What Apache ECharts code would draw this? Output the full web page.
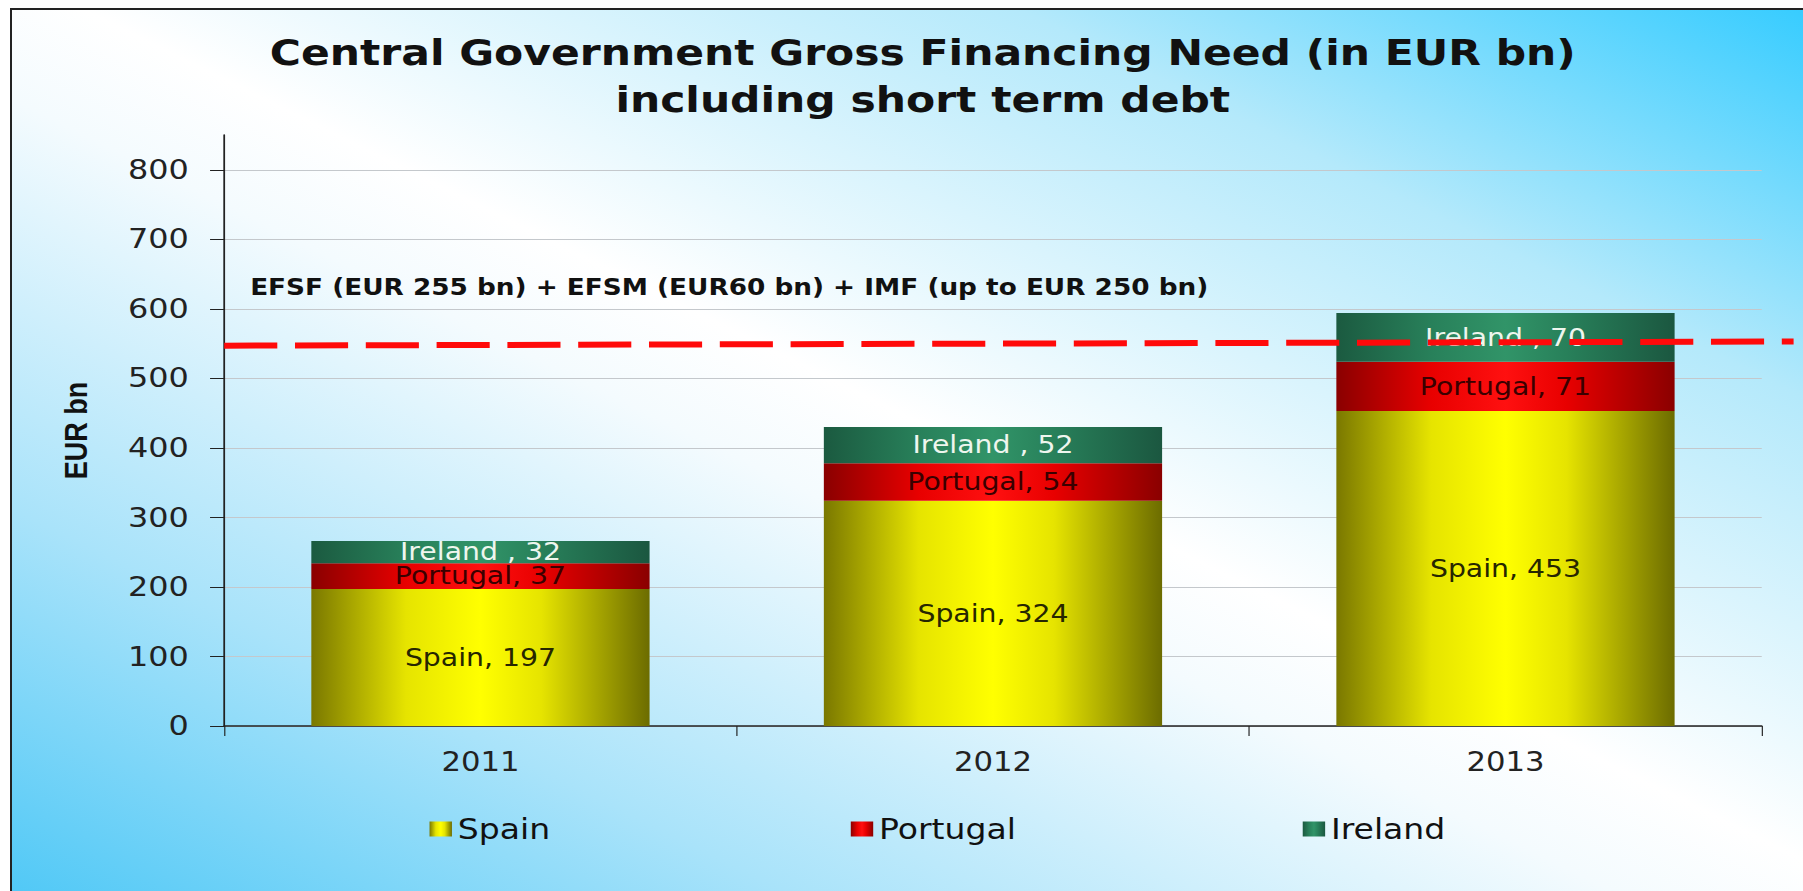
<!DOCTYPE html>
<html>
<head>
<meta charset="utf-8">
<title>Central Government Gross Financing Need</title>
<script src="https://cdn.jsdelivr.net/npm/echarts@6/dist/echarts.min.js"></script>
<style>
  html, body { margin: 0; padding: 0; width: 1803px; height: 891px; overflow: hidden; background: #fff; }
  #frame {
    position: absolute; left: 10px; top: 8px; width: 1800px; height: 890px;
    border-left: 2px solid #222; border-top: 2px solid #222;
    background: linear-gradient(to top right, #4fc8f6 0%, #a9e3fa 22%, #f4fbfe 45%, #ffffff 52%, #b4e9fb 78%, #36ccff 100%);
  }
  /* the original picture is stretched sideways, so the chart is drawn narrow and widened */
  #main { position: absolute; left: 0; top: 0; width: 1528px; height: 891px; transform: scaleX(1.18); transform-origin: 0 0; }
</style>
</head>
<body>
<div id="frame"></div>
<div id="main"></div>
<script>
  // data
  var years = ['2011', '2012', '2013'];
  var spain = [197, 324, 453];
  var portugal = [37, 54, 71];
  var ireland = [32, 52, 70];
  var facilityLine = [547, 553]; // EFSF + EFSM + IMF level, left end and right end

  var yMin = 0, yMax = 850, yStep = 100;

  function barGrad(edgeL, mid, centre, edgeR) {
    return new echarts.graphic.LinearGradient(0, 0, 1, 0, [
      { offset: 0, color: edgeL },
      { offset: 0.28, color: mid },
      { offset: 0.5, color: centre },
      { offset: 0.68, color: mid },
      { offset: 1, color: edgeR }
    ]);
  }

  var chart = echarts.init(document.getElementById('main'), null, { renderer: 'svg' });

  var labelFont = { fontFamily: 'DejaVu Sans', fontSize: 24, lineHeight: 22 };

  chart.setOption({
    backgroundColor: 'transparent',
    animation: false,
    title: [{
      text: 'Central Government Gross Financing Need (in EUR bn)\nincluding short term debt',
      left: 782, top: 29, padding: 0, textAlign: 'center',
      textStyle: { fontFamily: 'DejaVu Sans', fontWeight: 'bold', fontSize: 36, lineHeight: 47, color: '#111' }
    }, {
      text: 'EFSF (EUR 255 bn) + EFSM (EUR60 bn) + IMF (up to EUR 250 bn)',
      left: 212, top: 276, padding: 0,
      textStyle: { fontFamily: 'DejaVu Sans', fontWeight: 'bold', fontSize: 22.3, color: '#111' }
    }],
    legend: [
      { data: ['Spain'], left: 359, top: 810 },
      { data: ['Portugal'], left: 716, top: 810 },
      { data: ['Ireland'], left: 1099, top: 810 }
    ].map(function (l) {
      l.itemWidth = 19; l.itemHeight = 15; l.icon = 'rect';
      l.textStyle = { fontFamily: 'DejaVu Sans', fontSize: 28, color: '#111' };
      return l;
    }),
    grid: [
      { left: 190, right: 35, top: 135, bottom: 165 },
      { left: 190, right: 8, top: 135, bottom: 165 }
    ],
    xAxis: [{
      type: 'category', data: years, gridIndex: 0,
      axisLine: { lineStyle: { color: '#222', width: 1.5 } },
      axisTick: { show: true, length: 10, lineStyle: { color: '#222' } },
      axisLabel: { margin: 23, fontFamily: 'DejaVu Sans', fontSize: 26, color: '#222' }
    }, {
      type: 'value', gridIndex: 1, min: 0, max: 1, show: false
    }],
    yAxis: [{
      type: 'value', gridIndex: 0, min: yMin, max: yMax, interval: yStep,
      name: 'EUR bn', nameLocation: 'middle', nameGap: 112, nameRotate: 90,
      nameTextStyle: { fontFamily: 'Liberation Sans', fontWeight: 'bold', fontSize: 27, color: '#111' },
      axisLine: { show: true, lineStyle: { color: '#222', width: 1.5 } },
      axisTick: { show: true, length: 12, lineStyle: { color: '#222' } },
      axisLabel: { margin: 30, fontFamily: 'DejaVu Sans', fontSize: 27, color: '#222', showMaxLabel: false },
      splitLine: { show: true, showMaxLine: false, lineStyle: { color: '#c4c8cc', width: 1 } }
    }, {
      type: 'value', gridIndex: 1, min: yMin, max: yMax, show: false
    }],
    series: [{
      name: 'Spain', type: 'bar', stack: 'total', barWidth: '66%',
      data: spain,
      itemStyle: { color: barGrad('#7a7800', '#e6e400', '#ffff00', '#6c6c00') },
      label: Object.assign({ show: true, position: 'inside', formatter: '{a}, {c}', color: '#262600' }, labelFont)
    }, {
      name: 'Portugal', type: 'bar', stack: 'total',
      data: portugal,
      itemStyle: { color: barGrad('#8a0000', '#e80000', '#ff1010', '#8a0000') },
      label: Object.assign({ show: true, position: 'inside', formatter: '{a}, {c}', color: '#3a0000' }, labelFont)
    }, {
      name: 'Ireland', type: 'bar', stack: 'total',
      data: ireland,
      itemStyle: { color: barGrad('#1b5a40', '#28805a', '#319468', '#1b5740') },
      label: Object.assign({ show: true, position: 'inside', formatter: '{a} , {c}', color: '#eef6ee' }, labelFont)
    }, {
      name: 'facility', type: 'line', xAxisIndex: 1, yAxisIndex: 1, z: 10,
      data: [[0, facilityLine[0]], [1, facilityLine[1]]],
      symbol: 'none', silent: true,
      lineStyle: { color: '#ff0a0a', width: 6, type: [45, 15] }
    }]
  });
</script>
</body>
</html>
